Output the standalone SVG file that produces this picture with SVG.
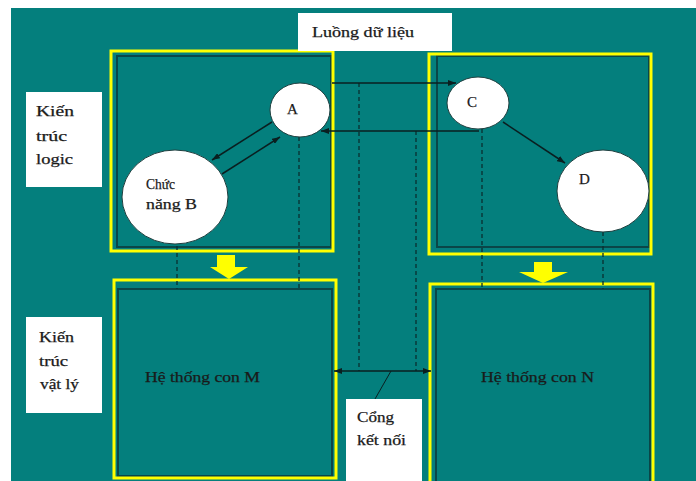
<svg xmlns="http://www.w3.org/2000/svg" width="696" height="481" viewBox="0 0 696 481">
<defs>
<style>
.t{font-family:"Liberation Serif","Times New Roman","DejaVu Serif",serif;font-size:14px;fill:#1a1a1a;stroke:#1a1a1a;stroke-width:0.25}
.big{font-size:15px}
.lbl{fill:#fff;stroke:none}
.yel{fill:none;stroke:#ffff00;stroke-width:3}
.inner{fill:none;stroke:#0a4648;stroke-width:2}
.circ{fill:#fff;stroke:#1f3f3f;stroke-width:1}
.dash{stroke:#0a2e30;stroke-width:1.3;stroke-dasharray:4 3;fill:none}
.edge{stroke:#0a1f20;stroke-width:1.5;fill:none}
.yarrow{fill:#ffff00}
</style>
<marker id="ah" viewBox="0 0 8 6" refX="8" refY="3" markerWidth="8" markerHeight="6" markerUnits="userSpaceOnUse" orient="auto-start-reverse">
<path d="M0,0 L8,3 L0,6 z" fill="#0a1f20"/>
</marker>
</defs>
<rect x="0" y="0" width="696" height="481" fill="#ffffff"/>
<rect x="11" y="8" width="685" height="473" fill="#047f7d"/>

<g id="sub-M">
<rect class="inner" x="118" y="289" width="214" height="187"/>
<rect class="yel" x="114" y="280" width="222" height="198"/>
<text class="t" x="145" y="382" textLength="115" lengthAdjust="spacingAndGlyphs">Hệ thống con M</text>
</g>
<g id="sub-N">
<rect class="inner" x="436" y="289" width="214" height="200"/>
<rect class="yel" x="430" y="284" width="223" height="205"/>
<text class="t" x="481" y="382" textLength="113" lengthAdjust="spacingAndGlyphs">Hệ thống con N</text>
</g>
<g id="logic-left">
<rect class="inner" x="117" y="56" width="214" height="191"/>
<rect class="yel" x="111" y="51" width="222" height="200"/>
</g>
<g id="logic-right">
<rect class="inner" x="437" y="56" width="212" height="191"/>
<rect class="yel" x="429" y="54" width="222" height="200"/>
</g>

<g id="connectors">
<path class="dash" d="M177,246 V289"/>
<path class="dash" d="M299,137 V289"/>
<path class="dash" d="M359,83 V371"/>
<path class="dash" d="M416,131 V371"/>
<path class="dash" d="M482,129 V289"/>
<path class="dash" d="M603,232 V289"/>
<path class="edge" d="M332,83 H456" marker-end="url(#ah)"/>
<path class="edge" d="M479,131 H321" marker-end="url(#ah)"/>
<path class="edge" d="M272,122 L212,160" marker-end="url(#ah)"/>
<path class="edge" d="M222,174 L280,137" marker-end="url(#ah)"/>
<path class="edge" d="M503,122 L565,163" marker-end="url(#ah)"/>
<path class="edge" d="M334,371 H431" marker-start="url(#ah)" marker-end="url(#ah)"/>
<path class="edge" d="M375,399 L391,371" style="stroke-width:1"/>
<polygon class="yarrow" points="217,255 235,255 235,267 248,267 229,279 210,267 217,267"/>
<polygon class="yarrow" points="534,262 552,262 552,272 568,272 543,283 519,272 534,272"/>
</g>

<g id="node-A">
<ellipse class="circ" cx="300" cy="110" rx="30" ry="27"/>
<text class="t big" x="287" y="114">A</text>
</g>
<g id="node-B">
<ellipse class="circ" cx="175" cy="197" rx="53" ry="47"/>
<text class="t" x="146" y="189" textLength="29" lengthAdjust="spacingAndGlyphs">Chức</text>
<text class="t" x="146" y="209" textLength="51" lengthAdjust="spacingAndGlyphs">năng B</text>
</g>
<g id="node-C">
<ellipse class="circ" cx="478" cy="103" rx="31" ry="26"/>
<text class="t big" x="467" y="107">C</text>
</g>
<g id="node-D">
<ellipse class="circ" cx="603" cy="191" rx="46" ry="41"/>
<text class="t big" x="579" y="184">D</text>
</g>

<g id="label-flow">
<rect class="lbl" x="298" y="13" width="154" height="38"/>
<text class="t" x="312" y="37" textLength="102" lengthAdjust="spacingAndGlyphs">Luồng dữ liệu</text>
</g>
<g id="label-logic">
<rect class="lbl" x="26" y="92" width="76" height="95"/>
<text class="t" x="36" y="116" textLength="38" lengthAdjust="spacingAndGlyphs">Kiến</text>
<text class="t" x="36" y="141" textLength="31" lengthAdjust="spacingAndGlyphs">trúc</text>
<text class="t" x="36" y="164" textLength="37" lengthAdjust="spacingAndGlyphs">logic</text>
</g>
<g id="label-physical">
<rect class="lbl" x="26" y="317" width="76" height="96"/>
<text class="t" x="39" y="342" textLength="35" lengthAdjust="spacingAndGlyphs">Kiến</text>
<text class="t" x="39" y="366" textLength="29" lengthAdjust="spacingAndGlyphs">trúc</text>
<text class="t" x="40" y="389" textLength="39" lengthAdjust="spacingAndGlyphs">vật lý</text>
</g>
<g id="label-gateway">
<rect class="lbl" x="346" y="399" width="76" height="82"/>
<text class="t" x="357" y="422" textLength="37" lengthAdjust="spacingAndGlyphs">Cổng</text>
<text class="t" x="357" y="445" textLength="49" lengthAdjust="spacingAndGlyphs">kết nối</text>
</g>
</svg>
